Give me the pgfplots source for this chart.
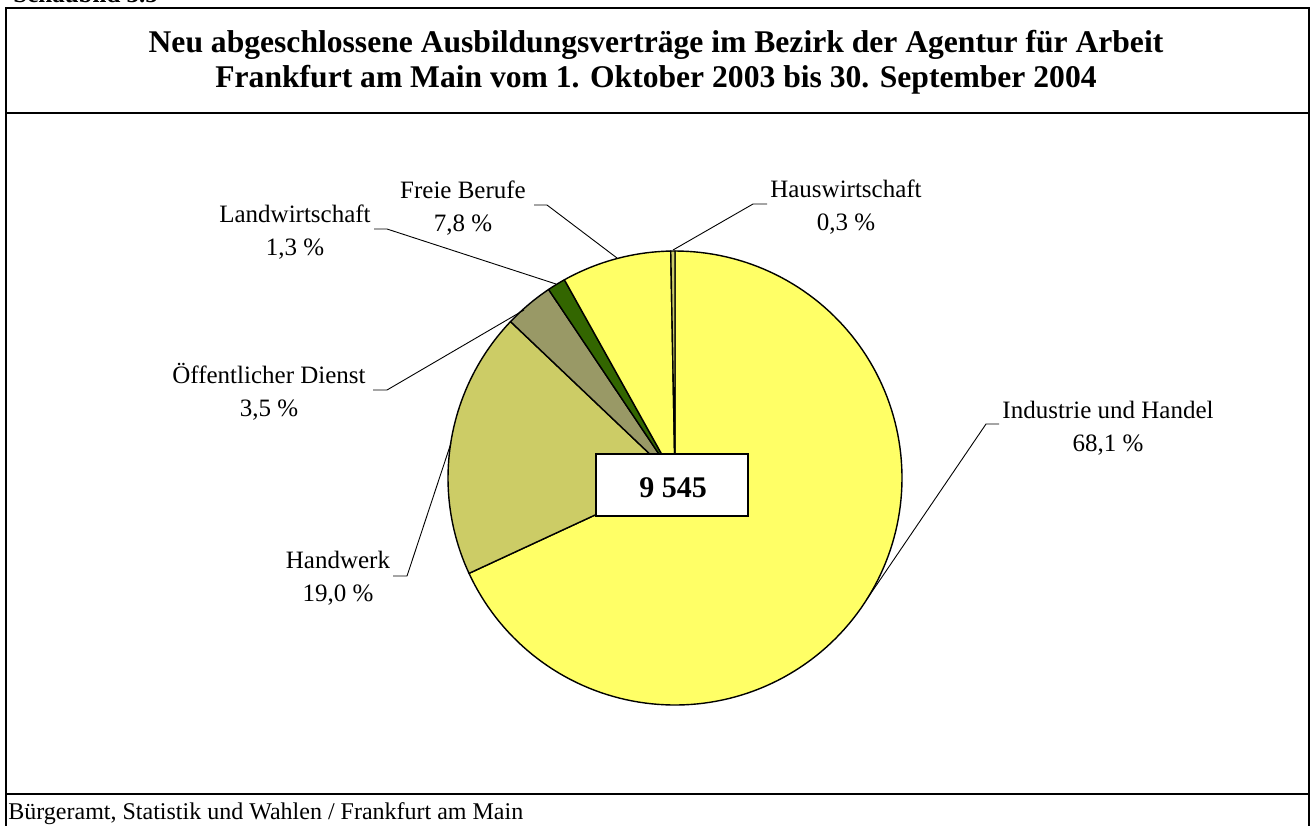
\documentclass[border=0pt]{standalone}
\usepackage{fontspec}
\setmainfont{Liberation Serif}
\usepackage{pgfplots}
\pgfplotsset{compat=1.18}

\definecolor{indu}{HTML}{FFFF66}
\definecolor{hand}{HTML}{CCCC66}
\definecolor{oeff}{HTML}{999966}
\definecolor{land}{HTML}{336600}
\definecolor{frei}{HTML}{FFFF66}
\definecolor{haus}{HTML}{CCCC66}

% shares in %: Industrie 68.1, Handwerk 19.0, Oeff. Dienst 3.5,
% Landwirtschaft 1.3, Freie Berufe 7.8, Hauswirtschaft 0.3
% slices run clockwise from 12 o'clock, domains are cumulative shares

\newcommand{\lbl}[4]{%
  \node[anchor=base, inner sep=0, font=\fontsize{12.5}{15}\selectfont] at (axis cs:#1,#2) {#3};
  \node[anchor=base, inner sep=0, font=\fontsize{12.5}{15}\selectfont] at (axis cs:#1,#2+33) {#4};
}

\begin{document}
\begin{tikzpicture}
\begin{axis}[
    x=0.5pt, y=0.5pt,
    xmin=0, xmax=1310,
    ymin=0, ymax=825,
    y dir=reverse,
    hide axis,
    clip=false,
    every axis plot/.append style={draw=black, line width=0.7pt, line join=round},
]

\addplot[fill=indu, domain=0:68.1, samples=150]
  ({675+227*sin(3.6*x)}, {478-227*cos(3.6*x)}) -- (axis cs:675,478) -- cycle;
\addplot[fill=hand, domain=68.1:87.1, samples=50]
  ({675+227*sin(3.6*x)}, {478-227*cos(3.6*x)}) -- (axis cs:675,478) -- cycle;
\addplot[fill=oeff, domain=87.1:90.6, samples=12]
  ({675+227*sin(3.6*x)}, {478-227*cos(3.6*x)}) -- (axis cs:675,478) -- cycle;
\addplot[fill=land, domain=90.6:91.9, samples=6]
  ({675+227*sin(3.6*x)}, {478-227*cos(3.6*x)}) -- (axis cs:675,478) -- cycle;
\addplot[fill=frei, domain=91.9:99.7, samples=25]
  ({675+227*sin(3.6*x)}, {478-227*cos(3.6*x)}) -- (axis cs:675,478) -- cycle;
\addplot[fill=haus, domain=99.7:100, samples=3]
  ({675+227*sin(3.6*x)}, {478-227*cos(3.6*x)}) -- (axis cs:675,478) -- cycle;

% leader lines
\draw[line width=0.45pt] (axis cs:767,204) -- (axis cs:753,204) -- (axis cs:673,250);
\draw[line width=0.45pt] (axis cs:534,205) -- (axis cs:547,205) -- (axis cs:617,258);
\draw[line width=0.45pt] (axis cs:374,229) -- (axis cs:387,229) -- (axis cs:556,284);
\draw[line width=0.45pt] (axis cs:373,390) -- (axis cs:387,390) -- (axis cs:524,310);
\draw[line width=0.45pt] (axis cs:393,576) -- (axis cs:407,576) -- (axis cs:451,443);
\draw[line width=0.45pt] (axis cs:999,424) -- (axis cs:986,424) -- (axis cs:867,599);

% labels
\lbl{846}{197}{Hauswirtschaft}{0,3 \%}
\lbl{463}{198}{Freie Berufe}{7,8 \%}
\lbl{295}{222}{Landwirtschaft}{1,3 \%}
\lbl{269}{383}{Öffentlicher Dienst}{3,5 \%}
\lbl{338}{568}{Handwerk}{19,0 \%}
\lbl{1108}{418}{Industrie und Handel}{68,1 \%}

% total box
\draw[fill=white, line width=0.75pt] (axis cs:596,454) rectangle (axis cs:748,516);
\node[anchor=base, inner sep=0, font=\fontsize{15}{18}\selectfont\bfseries] at (axis cs:673,497) {9 545};

% frame
\draw[line width=1pt] (axis cs:6,850) -- (axis cs:6,8.3) -- (axis cs:1308.5,8.3) -- (axis cs:1308.5,850);
\draw[line width=1pt] (axis cs:6,113) -- (axis cs:1308.5,113);
\draw[line width=1pt] (axis cs:6,794) -- (axis cs:1308.5,794);

% titles
\node[anchor=base west, inner sep=0, font=\fontsize{12.5}{15}\selectfont\bfseries] at (axis cs:13,2) {Schaubild 3.5};
\node[anchor=base, inner sep=0, font=\fontsize{15.8}{18}\selectfont\bfseries] at (axis cs:656,52)
  {Neu abgeschlossene Ausbildungsverträge im Bezirk der Agentur für Arbeit};
\node[anchor=base, inner sep=0, font=\fontsize{15.8}{18}\selectfont\bfseries] at (axis cs:656,87)
  {Frankfurt am Main vom 1. Oktober 2003 bis 30. September 2004};
\node[anchor=base west, inner sep=0, font=\fontsize{12}{14}\selectfont] at (axis cs:8,819)
  {Bürgeramt, Statistik und Wahlen / Frankfurt am Main};

\coordinate (bbA) at (axis cs:0,825);
\coordinate (bbB) at (axis cs:1310,0);
\end{axis}
\pgfresetboundingbox
\useasboundingbox (bbA) rectangle (bbB);
\end{tikzpicture}
\end{document}
